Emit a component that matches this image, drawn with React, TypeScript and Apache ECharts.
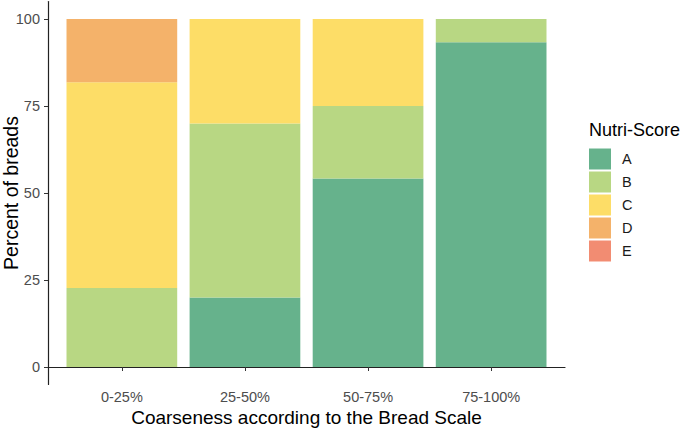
import React, { useEffect, useRef } from "react";
import * as echarts from "echarts";

const categories = ["0-25%", "25-50%", "50-75%", "75-100%"];
const scoreA = [0, 20, 54.2, 93.3];
const scoreB = [22.7, 50, 20.8, 6.7];
const scoreC = [59.1, 30, 25, 0];
const scoreD = [18.2, 0, 0, 0];
const scoreE: number[] = [];
const yTicks = [0, 25, 50, 75, 100];

const COLORS = {
  A: "#66b28c",
  B: "#b8d783",
  C: "#fddd67",
  D: "#f4b26a",
  E: "#f28c72",
};

const FONT = "Liberation Sans, Arial, sans-serif";

// value first so that stacking applies to the percentage dimension
function toPairs(vals: number[]) {
  return vals.map((v, i) => [v, i + 1]);
}

export default function App() {
  const ref = useRef<HTMLDivElement>(null);
  useEffect(() => {
    document.body.style.margin = "0";
    if (!ref.current) return;
    const chart = echarts.init(ref.current, null, { renderer: "svg" });
    const mk = (name: string, vals: number[], color: string) => ({
      name,
      type: "bar",
      stack: "total",
      barWidth: 110.7,
      data: toPairs(vals),
      encode: { x: 1, y: 0 },
      itemStyle: { color },
      emphasis: { disabled: true },
    });
    chart.setOption({
      animation: false,
      backgroundColor: "#ffffff",
      title: {
        text: "Nutri-Score",
        left: 589,
        top: 121,
        textStyle: { fontFamily: FONT, fontSize: 18, fontWeight: "normal", color: "#000" },
        padding: 0,
      },
      legend: {
        orient: "vertical",
        left: 589,
        top: 148.5,
        itemWidth: 22,
        itemHeight: 21,
        itemGap: 2,
        icon: "rect",
        padding: 0,
        textStyle: { fontFamily: FONT, fontSize: 14.5, color: "#1a1a1a", padding: [0, 0, 0, 6] },
        data: ["A", "B", "C", "D", "E"],
      },
      grid: { left: 48, right: 120, top: 1.6, bottom: 43.6, containLabel: false, outerBoundsMode: "none" },
      xAxis: {
        type: "value",
        min: 0.4,
        max: 4.6,
        splitLine: { show: false },
        axisLine: { show: true, lineStyle: { color: "#222", width: 1.2 } },
        axisTick: { show: true, customValues: [1, 2, 3, 4], length: 4, lineStyle: { color: "#333" } },
        axisLabel: {
          customValues: [1, 2, 3, 4],
          formatter: (v: number) => categories[Math.round(v) - 1] ?? "",
          fontFamily: FONT,
          fontSize: 14.5,
          color: "#4d4d4d",
          margin: 5,
        },
        name: "Coarseness according to the Bread Scale",
        nameLocation: "middle",
        nameGap: 23.5,
        nameMoveOverlap: false,
        nameTextStyle: { fontFamily: FONT, fontSize: 19, color: "#000" },
      },
      yAxis: {
        type: "value",
        min: -5,
        max: 105,
        splitLine: { show: false },
        axisLine: { show: true, lineStyle: { color: "#222", width: 1.2 } },
        axisTick: { show: true, customValues: yTicks, length: 4, lineStyle: { color: "#333" } },
        axisLabel: {
          customValues: yTicks,
          fontFamily: FONT,
          fontSize: 14.5,
          color: "#4d4d4d",
          margin: 8,
        },
        name: "Percent of breads",
        nameLocation: "middle",
        nameGap: 27,
        nameMoveOverlap: false,
        nameTextStyle: { fontFamily: FONT, fontSize: 19.5, color: "#000" },
      },
      series: [
        mk("A", scoreA, COLORS.A),
        mk("B", scoreB, COLORS.B),
        mk("C", scoreC, COLORS.C),
        mk("D", scoreD, COLORS.D),
        mk("E", scoreE, COLORS.E),
      ],
    });
    return () => chart.dispose();
  }, []);
  return <div ref={ref} style={{ width: 685, height: 428 }} />;
}
